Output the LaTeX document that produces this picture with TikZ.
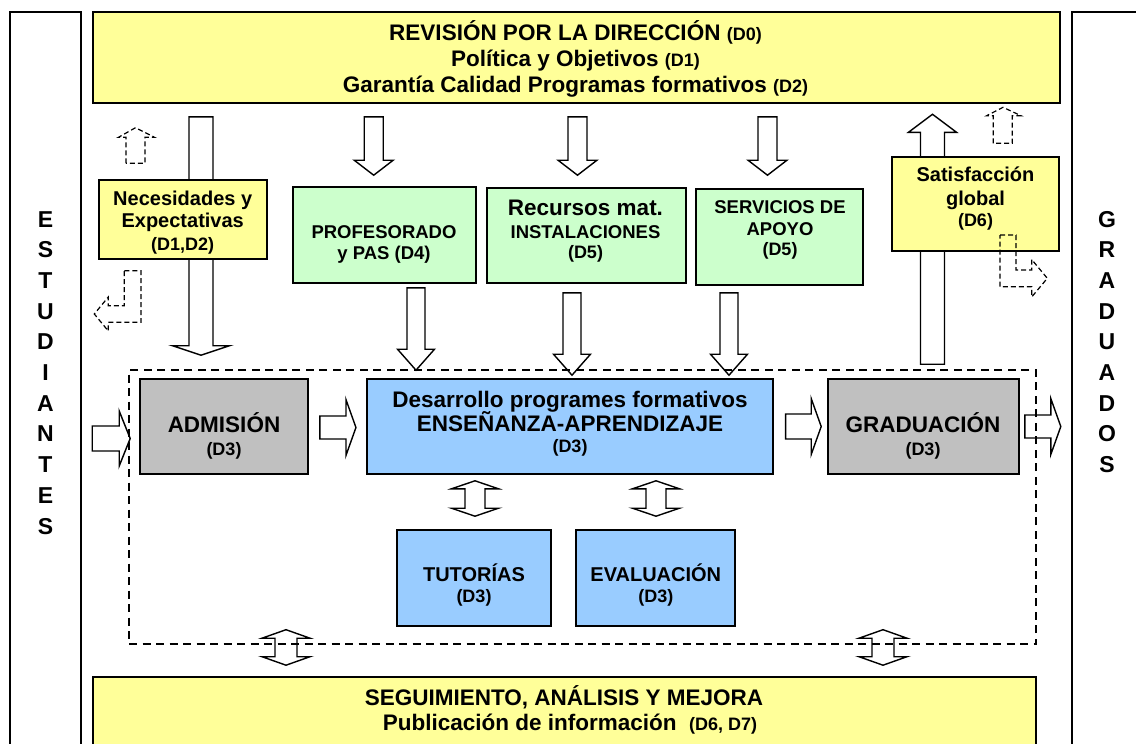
\documentclass[tikz,border=0pt]{standalone}
\usepackage{fontspec}
\setmainfont{Liberation Sans}
\usetikzlibrary{calc}
\pgfdeclarelayer{bg}
\pgfsetlayers{bg,main}
\definecolor{cyel}{RGB}{255,255,153}
\definecolor{cgrn}{RGB}{204,255,204}
\definecolor{cblu}{RGB}{153,204,255}
\definecolor{cgry}{RGB}{192,192,192}
\newcommand\dsm[1]{{\fontsize{18}{20}\selectfont #1}}
% block arrow from #1 to #2: shaft half width #3, head half width #4, head length #5
\newcommand\blockarrow[5]{%
  \coordinate (ba-h) at ($(#2)!#5!(#1)$);
  \draw[barrow] ($(#1)!#3!90:(#2)$) -- ($(ba-h)!#3!90:(#2)$) -- ($(ba-h)!#4!90:(#2)$) -- (#2)
    -- ($(ba-h)!#4!-90:(#2)$) -- ($(ba-h)!#3!-90:(#2)$) -- ($(#1)!#3!-90:(#2)$) -- cycle;}
% double-headed block arrow between #1 and #2
\newcommand\dblarrow[5]{%
  \coordinate (da-h1) at ($(#1)!#5!(#2)$);
  \coordinate (da-h2) at ($(#2)!#5!(#1)$);
  \draw[barrow] (#1) -- ($(da-h1)!#4!90:(#2)$) -- ($(da-h1)!#3!90:(#2)$) -- ($(da-h2)!#3!90:(#2)$)
    -- ($(da-h2)!#4!90:(#2)$) -- (#2) -- ($(da-h2)!#4!-90:(#2)$) -- ($(da-h2)!#3!-90:(#2)$)
    -- ($(da-h1)!#3!-90:(#2)$) -- ($(da-h1)!#4!-90:(#2)$) -- cycle;}
\begin{document}
\begin{tikzpicture}[x=1pt,y=-1pt,
  box/.style={draw,line width=1.6pt,inner sep=0pt,rectangle},
  barrow/.style={draw,fill=white,line width=1.4pt},
  darrow/.style={draw,line width=1.2pt,dash pattern=on 5pt off 3pt},
  txt/.style={inner sep=0pt,anchor=base},
  fa/.style={txt,font=\fontsize{22.5}{26}\selectfont\bfseries},
  fb/.style={txt,font=\fontsize{20}{23}\selectfont\bfseries},
  fc/.style={txt,font=\fontsize{18.5}{21}\selectfont\bfseries},
  fd/.style={txt,font=\fontsize{18}{20}\selectfont\bfseries},
  vl/.style={txt,font=\fontsize{23}{26}\selectfont\bfseries}]
\useasboundingbox (0,0) rectangle (1136,744);

% side frames
\node[box,minimum width=71pt,minimum height=780pt] (est) at (45.5,402) {};
\node[box,minimum width=88pt,minimum height=780pt] (grd) at (1116,402) {};
\foreach \l [count=\i from 0] in {E,S,T,U,D,I,A,N,T,E,S}
  \node[vl] (est-\i) at (45.5,{227+30.7*\i}) {\l};
\foreach \l [count=\i from 0] in {G,R,A,D,U,A,D,O,S}
  \node[vl] (grd-\i) at (1107,{227+30.7*\i}) {\l};

% boxes
\node[box,fill=cyel,minimum width=967pt,minimum height=91pt] (top) at (576.5,57.5) {};
\node[box,fill=cyel,minimum width=168pt,minimum height=79pt] (nec) at (183,219.5) {};
\node[box,fill=cgrn,minimum width=183pt,minimum height=96pt] (prof) at (384.5,235) {};
\node[box,fill=cgrn,minimum width=199pt,minimum height=95pt] (recu) at (586.5,235.5) {};
\node[box,fill=cgrn,minimum width=167pt,minimum height=96pt] (serv) at (779.5,237) {};
\node[box,fill=cyel,minimum width=167pt,minimum height=94pt] (sat) at (975.5,204) {};
\node[box,fill=cgry,minimum width=168pt,minimum height=95pt] (adm) at (224,426.5) {};
\node[box,fill=cblu,minimum width=405.5pt,minimum height=95pt] (des) at (570,426.5) {};
\node[box,fill=cgry,minimum width=191pt,minimum height=95pt] (grad) at (923.5,426.5) {};
\node[box,fill=cblu,minimum width=154pt,minimum height=96pt] (tut) at (474,578) {};
\node[box,fill=cblu,minimum width=159pt,minimum height=96pt] (eva) at (655.5,578) {};
\node[box,fill=cyel,minimum width=943pt,minimum height=110pt] (seg) at (564.5,732) {};
\node[draw,line width=1.4pt,dash pattern=on 8pt off 5.5pt,inner sep=0pt,
      minimum width=907pt,minimum height=274pt] (dbox) at (582.5,507) {};

% texts
\node[fa] (top-1) at (575.5,40.7) {REVISIÓN POR LA DIRECCIÓN \dsm{(D0)}};
\node[fa] (top-2) at (575.5,66.7) {Política y Objetivos \dsm{(D1)}};
\node[fa] (top-3) at (575.5,92.3) {Garantía Calidad Programas formativos \dsm{(D2)}};
\node[fb] (nec-1) at (182.7,205) {Necesidades y};
\node[fb] (nec-2) at (182.7,227.7) {Expectativas};
\node[fd] (nec-3) at (182.7,250) {(D1,D2)};
\node[fc] (prof-1) at (384,238.3) {PROFESORADO};
\node[fc] (prof-2) at (384,259) {y PAS (D4)};
\node[fa] (recu-1) at (585.5,215) {Recursos mat.};
\node[fc] (recu-2) at (585.5,238.3) {INSTALACIONES};
\node[fd] (recu-3) at (585.5,258) {(D5)};
\node[fc] (serv-1) at (780,213.3) {SERVICIOS DE};
\node[fc] (serv-2) at (780,235) {APOYO};
\node[fd] (serv-3) at (780,255.7) {(D5)};
\node[fb] (sat-1) at (975.5,181.7) {Satisfacción};
\node[fb] (sat-2) at (975.5,205) {global};
\node[fd] (sat-3) at (975.5,226.7) {(D6)};
\node[fa] (adm-1) at (224,432.7) {ADMISIÓN};
\node[fd] (adm-2) at (224,455.7) {(D3)};
\node[fa] (des-1) at (570,407.7) {Desarrollo programes formativos};
\node[fa] (des-2) at (570,431) {ENSEÑANZA-APRENDIZAJE};
\node[fd] (des-3) at (570,452.3) {(D3)};
\node[fa] (grad-1) at (923,432.7) {GRADUACIÓN};
\node[fd] (grad-2) at (923,455.7) {(D3)};
\node[fb] (tut-1) at (474,581) {TUTORÍAS};
\node[fd] (tut-2) at (474,602.7) {(D3)};
\node[fb] (eva-1) at (655.8,581) {EVALUACIÓN};
\node[fd] (eva-2) at (655.8,602.7) {(D3)};
\node[fa] (seg-1) at (564,705) {SEGUIMIENTO, ANÁLISIS Y MEJORA};
\node[fa] (seg-2) at (570,730) {Publicación de información \ \dsm{(D6, D7)}};

% dashed hollow arrows
\draw[darrow] (126,163.3) -- (126,137.3) -- (118.5,137.3) -- (135.5,127.7) -- (154.5,137.3)
  -- (145,137.3) -- (145,163.3) -- cycle;
\draw[darrow] (124.3,270.7) -- (141,270.7) -- (141,322.3) -- (108.3,322.3) -- (108.3,331)
  -- (94.3,314) -- (108.3,297) -- (108.3,305.7) -- (124.3,305.7) -- cycle;
\draw[darrow] (993.3,143.3) -- (993.3,115.7) -- (986.7,115.7) -- (1003,107.3) -- (1021,115.7)
  -- (1012.3,115.7) -- (1012.3,143.3) -- cycle;
\draw[darrow] (1000,235) -- (1016,235) -- (1016,270) -- (1031.7,270) -- (1031.7,259.5)
  -- (1047.3,278.3) -- (1031.7,297) -- (1031.7,286.7) -- (1000,286.7) -- cycle;

% block arrows (behind boxes)
\begin{pgfonlayer}{bg}
\fill[white] (0,0) rectangle (1136,744);
\coordinate (s1a) at ($(top.south -| 201,0)+(0,13)$);
\coordinate (s1b) at ($(adm.north -| 201,0)+(0,-23)$);
\blockarrow{s1a}{s1b}{12pt}{28.5pt}{9.5pt}
\coordinate (s2a) at ($(grad.north -| 932.5,0)+(0,-14)$);
\coordinate (s2b) at ($(top.south -| 932.5,0)+(0,10.5)$);
\blockarrow{s2a}{s2b}{12pt}{24pt}{18pt}
\coordinate (a1a) at ($(top.south -| 373.7,0)+(0,13)$);
\coordinate (a1b) at ($(prof.north -| 373.7,0)+(0,-11)$);
\blockarrow{a1a}{a1b}{9.5pt}{19.5pt}{15pt}
\coordinate (a2a) at ($(top.south -| 577.5,0)+(0,13)$);
\coordinate (a2b) at ($(recu.north -| 577.5,0)+(0,-12)$);
\blockarrow{a2a}{a2b}{9.5pt}{19.5pt}{15pt}
\coordinate (a3a) at ($(top.south -| 767.5,0)+(0,13)$);
\coordinate (a3b) at ($(serv.north -| 767.5,0)+(0,-13)$);
\blockarrow{a3a}{a3b}{9.5pt}{19.5pt}{15pt}
\coordinate (b1a) at ($(prof.south -| 416,0)+(0,4)$);
\coordinate (b1b) at ($(des.north -| 416,0)+(0,-8)$);
\blockarrow{b1a}{b1b}{9pt}{18.5pt}{21pt}
\coordinate (b2a) at ($(recu.south -| 572,0)+(0,9)$);
\coordinate (b2b) at ($(des.north -| 572,0)+(0,-3)$);
\blockarrow{b2a}{b2b}{9pt}{18.5pt}{21pt}
\coordinate (b3a) at ($(serv.south -| 729,0)+(0,7)$);
\coordinate (b3b) at ($(des.north -| 729,0)+(0,-3)$);
\blockarrow{b3a}{b3b}{9pt}{18.5pt}{21pt}
\coordinate (h1a) at ($(adm.west)+(-47,12)$);
\coordinate (h1b) at ($(adm.west)+(-9,12)$);
\blockarrow{h1a}{h1b}{12.5pt}{27.5pt}{11pt}
\coordinate (h2a) at ($(adm.east)+(11,1)$);
\coordinate (h2b) at ($(des.west)+(-10.5,1)$);
\blockarrow{h2a}{h2b}{11.5pt}{28pt}{10pt}
\coordinate (h3a) at ($(des.east)+(12,0)$);
\coordinate (h3b) at ($(grad.west)+(-6,0)$);
\blockarrow{h3a}{h3b}{12.5pt}{28pt}{10pt}
\coordinate (h4a) at ($(grad.east)+(5,0)$);
\coordinate (h4b) at ($(grad.east)+(41,0)$);
\blockarrow{h4a}{h4b}{11.5pt}{28pt}{10pt}
\coordinate (d1a) at ($(des.south -| 475,0)+(0,6)$);
\coordinate (d1b) at ($(tut.north -| 475,0)+(0,-13)$);
\dblarrow{d1a}{d1b}{10pt}{23.5pt}{8pt}
\coordinate (d2a) at ($(des.south -| 656,0)+(0,6)$);
\coordinate (d2b) at ($(eva.north -| 656,0)+(0,-13)$);
\dblarrow{d2a}{d2b}{10pt}{23.5pt}{8pt}
\coordinate (d3a) at ($(dbox.south -| 286,0)+(0,-15)$);
\coordinate (d3b) at ($(seg.north -| 286,0)+(0,-11)$);
\dblarrow{d3a}{d3b}{11pt}{24pt}{8.5pt}
\coordinate (d4a) at ($(dbox.south -| 883,0)+(0,-15)$);
\coordinate (d4b) at ($(seg.north -| 883,0)+(0,-11)$);
\dblarrow{d4a}{d4b}{11pt}{24pt}{8.5pt}
\end{pgfonlayer}
\end{tikzpicture}
\end{document}
